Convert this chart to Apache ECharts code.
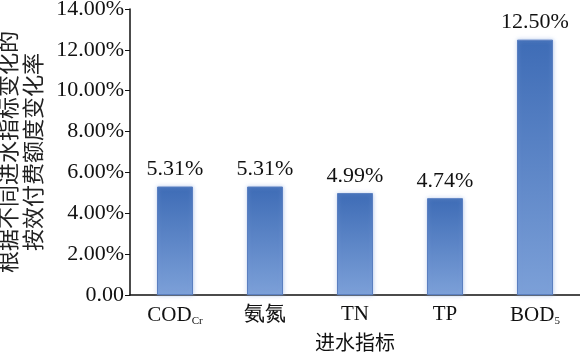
<!DOCTYPE html>
<html><head><meta charset="utf-8">
<script src="https://cdn.jsdelivr.net/npm/echarts@6/dist/echarts.min.js"></script>
<style>html,body{margin:0;padding:0;background:#fff}#c{width:580px;height:354px}</style>
</head><body><div id="c"></div>
<script>
const categories = ['COD{sub|Cr}', '氨氮', 'TN', 'TP', 'BOD{sub|5}'];
const values = [5.31, 5.31, 4.99, 4.74, 12.50];
const yTicks = [0, 2, 4, 6, 8, 10, 12, 14];
const yName = '根据不同进水指标变化的\n按效付费额度变化率';
const xName = '进水指标';

const serif = '"Liberation Serif","DejaVu Serif",serif';
const cjk = '"Noto Sans CJK SC",sans-serif';
const chart = echarts.init(document.getElementById('c'));
chart.setOption({
  animation: false,
  grid: { left: 130, right: 0, top: 9, bottom: 59, containLabel: false, outerBoundsMode: 'none' },
  xAxis: {
    type: 'category', data: categories,
    name: xName, nameLocation: 'middle', nameGap: 37,
    nameTextStyle: { fontFamily: cjk, fontSize: 20, color: '#111' },
    axisLine: { lineStyle: { color: '#111', width: 1.5 } },
    axisTick: { show: false },
    axisLabel: {
      interval: 0,
      fontFamily: serif, fontSize: 21, color: '#111', margin: 9,
      rich: { sub: { fontFamily: serif, fontSize: 11, color: '#111', verticalAlign: 'bottom', padding: [12, 0, 0, 0] } }
    }
  },
  yAxis: {
    type: 'value', min: yTicks[0], max: yTicks[yTicks.length - 1], interval: 2,
    name: yName, nameLocation: 'middle', nameGap: 80, nameRotate: 90,
    nameTextStyle: { fontFamily: cjk, fontSize: 22, color: '#222', lineHeight: 25 },
    axisLine: { show: true, lineStyle: { color: '#111', width: 1.5 } },
    axisTick: { show: true, length: 5, inside: false, lineStyle: { color: '#111' } },
    splitLine: { show: false },
    axisLabel: {
      fontFamily: serif, fontSize: 22, color: '#111', margin: 6,
      formatter: v => v === 0 ? '0.00' : v.toFixed(2) + '%'
    }
  },
  series: [{
    type: 'bar', data: values, barWidth: 36,
    itemStyle: {
      color: new echarts.graphic.LinearGradient(0, 0, 0, 1, [
        { offset: 0, color: '#3e6cb6' },
        { offset: 1, color: '#7ca0d8' }
      ]),
      borderColor: '#5a7fc0', borderWidth: 1,
      shadowColor: 'rgba(140,170,225,0.6)', shadowBlur: 4
    },
    label: {
      show: true, position: 'top', distance: 6,
      fontFamily: serif, fontSize: 22, color: '#111',
      formatter: p => p.value.toFixed(2) + '%'
    }
  }]
});
</script></body></html>
